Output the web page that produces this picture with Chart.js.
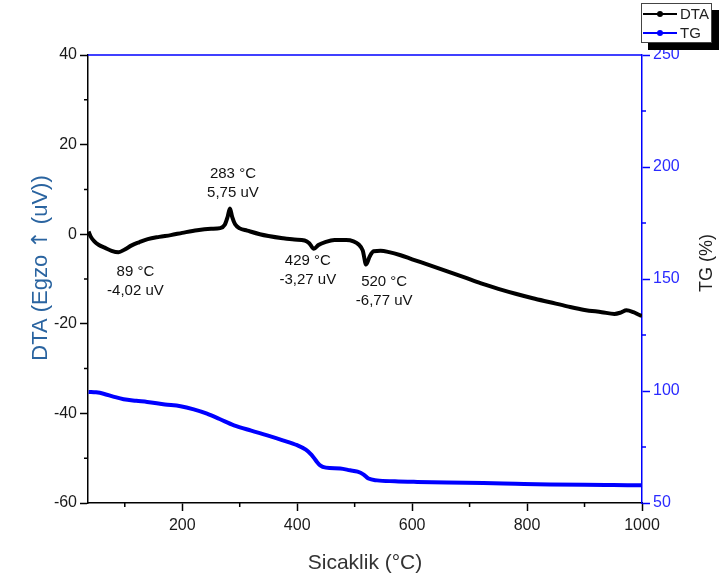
<!DOCTYPE html>
<html>
<head>
<meta charset="utf-8">
<script src="https://cdn.jsdelivr.net/npm/chart.js@4"></script>
<style>
  body { margin: 0; background: #fff; }
  #wrap { position: relative; width: 720px; height: 583px; }
  #legend {
    position: absolute; left: 641px; top: 3px; width: 69px; height: 38px;
    border: 1px solid #444; background: #fff; box-shadow: 7px 7px 0 #000;
    font: 15px "Liberation Sans", Arial, sans-serif; color: #222;
  }
  .legend-row { display: flex; align-items: center; height: 19px; }
  .legend-line { position: relative; width: 34px; height: 2px; margin: 0 3px 0 1px; }
  .legend-dot { position: absolute; left: 14px; top: -2px; width: 6px; height: 6px; border-radius: 50%; }
</style>
</head>
<body>
<div id="wrap">
  <canvas id="dtaChart" width="720" height="583"></canvas>
  <div id="legend"></div>
</div>
<script>
// DTA curve (temperature in °C, signal in uV)
const dtaTemps = [37, 41, 47, 55, 65, 77, 89, 100, 112, 125, 140, 160, 180, 200, 226, 250, 266, 274, 279, 283,
  287, 292, 300, 313, 335, 350, 375, 395, 413, 421, 429, 437, 450, 465, 485, 498, 507, 514, 520, 526,
  533, 545, 560, 580, 600, 630, 660, 690, 720, 750, 780, 810, 840, 870, 900, 930, 952, 963, 973, 985, 997, 1000];
const dtaValues = [0.6, -0.6, -1.6, -2.4, -3.0, -3.7, -4.02, -3.4, -2.5, -1.8, -1.1, -0.6, -0.2, 0.3, 0.9, 1.2, 1.35, 2.1, 3.9, 5.75,
  3.8, 2.2, 1.3, 0.8, 0.0, -0.4, -0.9, -1.2, -1.4, -2.0, -3.27, -2.4, -1.7, -1.3, -1.3, -1.6, -2.3, -3.6, -6.77, -5.0,
  -3.8, -3.7, -4.0, -4.7, -5.6, -6.9, -8.25, -9.6, -11.0, -12.2, -13.3, -14.3, -15.2, -16.1, -16.9, -17.4, -17.8, -17.5, -17.0, -17.4, -18.1, -18.2];

// TG curve (mass %)
const tgTemps = [37, 50, 63, 80, 98, 120, 139, 170, 197, 220, 243, 265, 290, 320, 348, 375, 400, 415, 425, 433,
  440, 450, 475, 492, 505, 515, 524, 539, 570, 609, 660, 724, 780, 840, 900, 950, 1000];
const tgValues = [99.6, 99.4, 98.8, 97.5, 96.3, 95.6, 95.1, 94.0, 93.2, 91.8, 89.9, 87.5, 84.7, 82.3, 80.2, 78.0, 75.8, 73.8, 71.5, 68.8,
  66.8, 65.8, 65.4, 64.6, 64.0, 62.8, 60.9, 60.1, 59.7, 59.4, 59.1, 58.9, 58.6, 58.3, 58.1, 58.0, 57.9];

// marked DTA peaks
const peakTemps = [89, 283, 429, 520];
const peakValues = [-4.02, 5.75, -3.27, -6.77];
const peakLabelOffsets = [[17, 20], [3, -35], [-6, 12], [18, 17]];

// axis ticks
const xTickValues = [200, 400, 600, 800, 1000];
const xMinorTicks = [100, 300, 500, 700, 900];
const dtaTickValues = [-60, -40, -20, 0, 20, 40];
const dtaMinorTicks = [-50, -30, -10, 10, 30];
const tgTickValues = [50, 100, 150, 200, 250];
const tgMinorTicks = [75, 125, 175, 225];

const FONT = '"Liberation Sans", Arial, sans-serif';
const TG_BLUE = '#0000ff';
const MINOR_LEN = 4;

function toPoints(xs, ys) {
  return xs.map((x, i) => ({ x, y: ys[i] }));
}

function setTicks(values) {
  return scale => { scale.ticks = values.map(value => ({ value })); };
}

// frame line on top plus the short minor ticks
const axisExtras = {
  id: "axisExtras",
  afterDraw(chart) {
    const { ctx, chartArea } = chart;
    ctx.save();
    ctx.lineWidth = 1.5;
    ctx.strokeStyle = TG_BLUE;
    ctx.beginPath();
    ctx.moveTo(chartArea.left, chartArea.top);
    ctx.lineTo(chartArea.right, chartArea.top);
    ctx.stroke();

    const specs = [
      { id: "x", values: xMinorTicks, color: "#000" },
      { id: "y", values: dtaMinorTicks, color: "#000" },
      { id: "y2", values: tgMinorTicks, color: TG_BLUE }
    ];
    specs.forEach(spec => {
      const scale = chart.scales[spec.id];
      ctx.strokeStyle = spec.color;
      ctx.beginPath();
      spec.values.forEach(v => {
        const p = scale.getPixelForValue(v);
        if (spec.id === "x") {
          ctx.moveTo(p, chartArea.bottom);
          ctx.lineTo(p, chartArea.bottom + MINOR_LEN);
        } else if (spec.id === "y") {
          ctx.moveTo(chartArea.left, p);
          ctx.lineTo(chartArea.left - MINOR_LEN, p);
        } else {
          ctx.moveTo(chartArea.right, p);
          ctx.lineTo(chartArea.right + MINOR_LEN, p);
        }
      });
      ctx.stroke();
    });
    ctx.restore();
  }
};

// rotated titles for both value axes (both read bottom to top)
const sideTitles = {
  id: "sideTitles",
  afterDraw(chart) {
    const { ctx, chartArea } = chart;
    const midY = (chartArea.top + chartArea.bottom) / 2;
    // each title is a list of [text, font] runs so the arrow can use a font that has a full-size glyph
    const draw = (runs, x, y, color) => {
      ctx.save();
      ctx.translate(x, y);
      ctx.rotate(-Math.PI / 2);
      ctx.fillStyle = color;
      ctx.textBaseline = "middle";
      ctx.textAlign = "left";
      const widths = runs.map(([text, font]) => { ctx.font = font; return ctx.measureText(text).width; });
      let cx = -widths.reduce((a, b) => a + b, 0) / 2;
      runs.forEach(([text, font], i) => {
        ctx.font = font;
        ctx.fillText(text, cx, 0);
        cx += widths[i];
      });
      ctx.restore();
    };
    const dtaFont = `22px ${FONT}`;
    draw([["DTA (Egzo ", dtaFont], ["\u2191", '22px "DejaVu Sans", sans-serif'], [" (uV))", dtaFont]],
      chartArea.left - 47, midY - 11, "#2a64a0");
    draw([["TG (%)", `18px ${FONT}`]], chartArea.right + 65, midY - 16, "#222");
  }
};

// temperature / signal labels next to each peak
const peakLabels = {
  id: "peakLabels",
  afterDatasetsDraw(chart) {
    const { ctx, scales: { x, y } } = chart;
    ctx.save();
    ctx.font = `15px ${FONT}`;
    ctx.fillStyle = "#111";
    ctx.textAlign = "center";
    ctx.textBaseline = "middle";
    peakTemps.forEach((t, i) => {
      const px = x.getPixelForValue(t) + peakLabelOffsets[i][0];
      const py = y.getPixelForValue(peakValues[i]) + peakLabelOffsets[i][1];
      ctx.fillText(`${t} \u00b0C`, px, py);
      ctx.fillText(`${peakValues[i].toFixed(2).replace(".", ",")} uV`, px, py + 19);
    });
    ctx.restore();
  }
};

const tickFont = { family: FONT, size: 16 };
const plainLabel = value => String(value);

const chart = new Chart(document.getElementById("dtaChart"), {
  type: "line",
  data: {
    datasets: [
      {
        label: "DTA",
        data: toPoints(dtaTemps, dtaValues),
        borderColor: "#000",
        backgroundColor: "#000",
        borderWidth: 4,
        pointRadius: 0,
        cubicInterpolationMode: "monotone",
        yAxisID: "y"
      },
      {
        label: "TG",
        data: toPoints(tgTemps, tgValues),
        borderColor: TG_BLUE,
        backgroundColor: TG_BLUE,
        borderWidth: 4,
        pointRadius: 0,
        cubicInterpolationMode: "monotone",
        yAxisID: "y2"
      }
    ]
  },
  options: {
    responsive: false,
    animation: false,
    layout: { padding: { top: 55, left: 0, right: 0, bottom: 0 } },
    plugins: { legend: { display: false }, tooltip: { enabled: false } },
    scales: {
      x: {
        type: "linear",
        min: 36,
        max: 1000,
        afterBuildTicks: setTicks(xTickValues),
        afterFit: scale => { scale.height = 80; },
        border: { color: "#000", width: 1.5 },
        grid: { drawOnChartArea: false, tickLength: 8, tickColor: "#000", tickWidth: 1.5 },
        ticks: { font: tickFont, color: "#1a1a1a", padding: 5, maxRotation: 0, callback: plainLabel },
        title: { display: true, text: "Sicaklik (\u00b0C)", font: { family: FONT, size: 21 }, color: "#333", padding: { top: 0, bottom: 7 } }
      },
      y: {
        position: "left",
        min: -60,
        max: 40,
        afterBuildTicks: setTicks(dtaTickValues),
        afterFit: scale => { scale.width = 88; },
        border: { color: "#000", width: 1.5 },
        grid: { drawOnChartArea: false, tickLength: 8, tickColor: "#000", tickWidth: 1.5 },
        ticks: { font: tickFont, color: "#1a1a1a", padding: 3, callback: plainLabel }
      },
      y2: {
        position: "right",
        min: 50,
        max: 250,
        afterBuildTicks: setTicks(tgTickValues),
        afterFit: scale => { scale.width = 78; },
        border: { color: TG_BLUE, width: 1.5 },
        grid: { drawOnChartArea: false, tickLength: 8, tickColor: TG_BLUE, tickWidth: 1.5 },
        ticks: { font: tickFont, color: "#2a2aff", padding: 3, callback: plainLabel }
      }
    }
  },
  plugins: [axisExtras, sideTitles, peakLabels]
});

// legend box built from the datasets
const legend = document.getElementById("legend");
chart.data.datasets.forEach(ds => {
  const row = document.createElement("div");
  row.className = "legend-row";
  row.innerHTML = `<div class="legend-line" style="background:${ds.borderColor}">` +
    `<div class="legend-dot" style="background:${ds.borderColor}"></div></div><span>${ds.label}</span>`;
  legend.appendChild(row);
});
</script>
</body>
</html>
